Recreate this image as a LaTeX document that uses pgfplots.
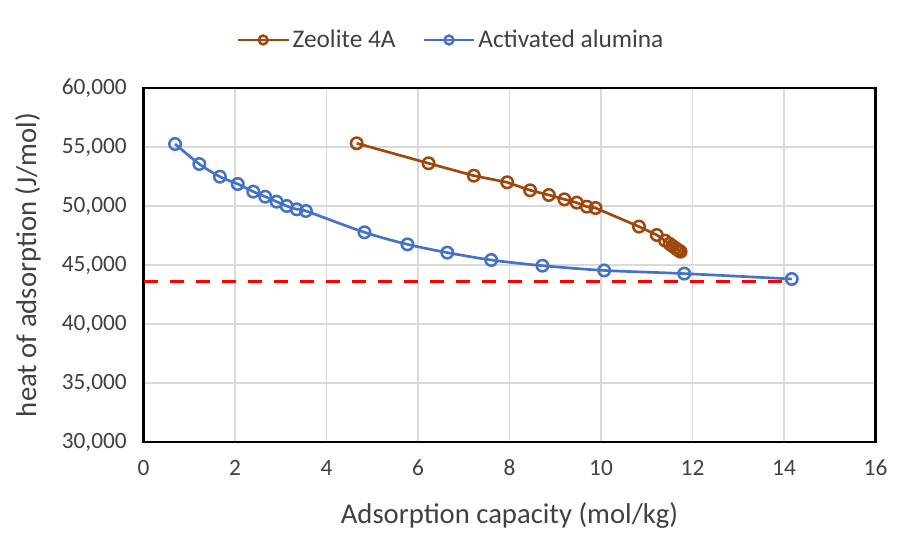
\documentclass[border=0pt]{standalone}
\usepackage{pgfplots}
\pgfplotsset{compat=1.18}
\usepackage{fontspec}
\setmainfont{Carlito}
\definecolor{zeol}{HTML}{9E480E}
\definecolor{alum}{HTML}{4472C4}
\definecolor{gridc}{HTML}{D9D9D9}
\definecolor{tickc}{HTML}{404040}
\begin{document}
\begin{tikzpicture}
\useasboundingbox (0pt,0pt) rectangle (687.75pt,417.75pt);
\begin{axis}[
  scale only axis,
  width=549pt, height=265.5pt,
  at={(107.625pt,86.25pt)}, anchor=south west,
  xmin=0, xmax=16, ymin=30000, ymax=60000,
  xtick={0,2,...,16}, ytick={30000,35000,...,60000},
  grid=major,
  major grid style={gridc, line width=1.1pt},
  axis line style={black, line width=2.2pt},
  tick style={draw=none},
  scaled y ticks=false,
  /pgf/number format/assume math mode=true,
  /pgf/number format/1000 sep={,},
  yticklabel style={/pgf/number format/fixed, font=\fontsize{17.5}{20}\selectfont, text=tickc, xshift=-9pt},
  xticklabel style={font=\fontsize{17.5}{20}\selectfont, text=tickc, yshift=-10pt},
  xlabel={Adsorption capacity (mol/kg)},
  ylabel={heat of adsorption (J/mol)},
  label style={font=\fontsize{21.5}{25}\selectfont, text=tickc},
  xlabel style={at={(axis description cs:0.5,-0.207)}, anchor=center},
  ylabel style={at={(axis description cs:-0.158,0.5)}, anchor=center},
  legend columns=2,
  legend style={draw=none, at={(0.4205,1.1356)}, anchor=center, font=\fontsize{19}{22}\selectfont, text=tickc,
    /tikz/every even column/.append style={column sep=18pt}},
  legend image code/.code={
    \draw[#1, mark=none] (0pt,0pt) -- (38pt,0pt);
    \draw[#1, only marks, mark size=3.3pt] plot coordinates {(19pt,0pt)};
  },
]
\addplot[zeol, line width=2pt, mark=o, mark size=4.3pt, mark options={line width=1.9pt, fill=white}]
coordinates {
(4.66,55314) (6.23,53619) (7.22,52568) (7.95,52008) (8.45,51331) (8.86,50932)
(9.20,50565) (9.47,50283) (9.69,49944) (9.88,49831) (10.83,48254) (11.22,47542)
(11.40,47062) (11.50,46800) (11.56,46620) (11.62,46450) (11.67,46310) (11.71,46200) (11.74,46127)
};
\addlegendentry{Zeolite 4A}
\addplot[alum, line width=2pt, smooth, mark=o, mark size=4.3pt, mark options={line width=1.9pt, fill=white}]
coordinates {
(0.69,55254) (1.22,53559) (1.67,52483) (2.06,51864) (2.40,51215) (2.66,50790)
(2.91,50367) (3.13,50000) (3.35,49720) (3.55,49576) (4.83,47770) (5.77,46750)
(6.64,46050) (7.60,45424) (8.72,44941) (10.07,44540) (11.82,44270) (14.17,43814)
};
\addlegendentry{Activated alumina}
\addplot[red, line width=2.2pt, dash pattern=on 11pt off 8.5pt, forget plot]
coordinates {(0,43585) (14,43585)};
\end{axis}
\end{tikzpicture}
\end{document}
